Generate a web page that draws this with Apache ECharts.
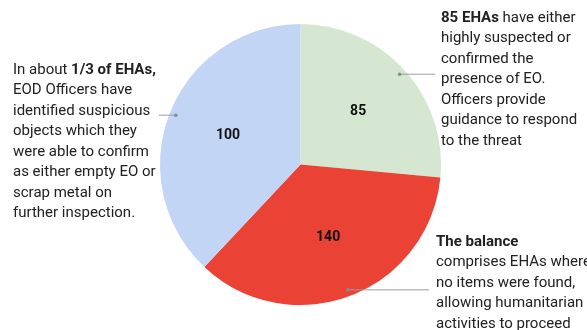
<!DOCTYPE html>
<html><head><meta charset="utf-8">
<script src="https://cdn.jsdelivr.net/npm/echarts@6/dist/echarts.min.js"></script>
<style>html,body{margin:0;padding:0;background:#fff}#c{width:587px;height:330px}</style>
</head><body><div id="c"></div>
<script>
// Slices, clockwise from 12 o'clock
const categories = ['Confirmed / highly suspected EO', 'No items found', 'Empty EO or scrap metal'];
// slice sizes as drawn
const sliceValues = [85, 114, 122];
// numbers printed on the slices
const labelValues = [85, 140, 100];
const colors = ['#d5e7d0', '#ea4335', '#c2d5f5'];
const annotationLines = [
  ['{b|85 EHAs} have either', 'highly suspected or', 'confirmed the', 'presence of EO.', 'Officers provide', 'guidance to respond', 'to the threat'],
  ['{b|The balance}', 'comprises EHAs where', 'no items were found,', 'allowing humanitarian', 'activities to proceed'],
  ['In about {b|1/3 of EHAs,}', 'EOD Officers have', 'identified suspicious', 'objects which they', 'were able to confirm', 'as either empty EO or', 'scrap metal on', 'further inspection.']
];

// layout
const CX = 300.5, CY = 164.5, R = 140.5;
const LH = 20.5;
const FS = 15;
const annoLayout = [
  {tx: 441, ty: 18 - LH / 2, lineEnd: 435},
  {tx: 436, ty: 242 - LH / 2, lineEnd: 429},
  {tx: 13, ty: 70 - LH / 2, lineEnd: 159}
];
const FONT = 'Roboto, "Noto Sans", Arial, sans-serif';

const chart = echarts.init(document.getElementById('c'), null, {renderer: 'canvas'});

const total = sliceValues.reduce((a, b) => a + b, 0);
let acc = 0;
const mids = [];
const graphics = [];
sliceValues.forEach((v, i) => {
  const mid = (acc + v / 2) / total * 2 * Math.PI;
  mids.push(mid);
  acc += v;
  const dr = R * 0.954;
  const px = CX + dr * Math.sin(mid), py = CY - dr * Math.cos(mid);
  const L = annoLayout[i];
  graphics.push({type: 'line', z: 10, shape: {x1: px, y1: py, x2: L.lineEnd, y2: py}, style: {stroke: '#9e9e9e', lineWidth: 1}});
  graphics.push({type: 'circle', z: 11, shape: {cx: px, cy: py, r: 1.8}, style: {fill: '#8a8a8a'}});
  graphics.push({
    type: 'text', z: 10, x: L.tx, y: L.ty,
    style: {
      text: annotationLines[i].join('\n'),
      fontFamily: FONT, fontSize: FS, fill: '#212121', lineHeight: LH,
      verticalAlign: 'top', align: 'left',
      rich: {b: {fontFamily: FONT, fontSize: FS, fontWeight: 'bold', fill: '#212121', lineHeight: LH}}
    }
  });
});

chart.setOption({
  backgroundColor: '#ffffff',
  animation: false,
  series: [{
    type: 'pie',
    center: [CX, CY],
    radius: R,
    startAngle: 90,
    clockwise: true,
    avoidLabelOverlap: false,
    emphasis: {disabled: true},
    silent: true,
    itemStyle: {borderWidth: 0},
    label: {
      show: true,
      position: 'inside',
      formatter: p => String(labelValues[p.dataIndex]),
      fontFamily: FONT, fontSize: 14, fontWeight: 'bold', color: '#111'
    },
    labelLine: {show: false},
    labelLayout: p => {
      const m = mids[p.dataIndex];
      const d = R * 0.555;
      return {x: CX + d * Math.sin(m), y: CY - d * Math.cos(m), align: 'center', verticalAlign: 'middle'};
    },
    data: categories.map((c, i) => ({name: c, value: sliceValues[i], itemStyle: {color: colors[i]}}))
  }],
  graphic: graphics
});
</script>
</body></html>
